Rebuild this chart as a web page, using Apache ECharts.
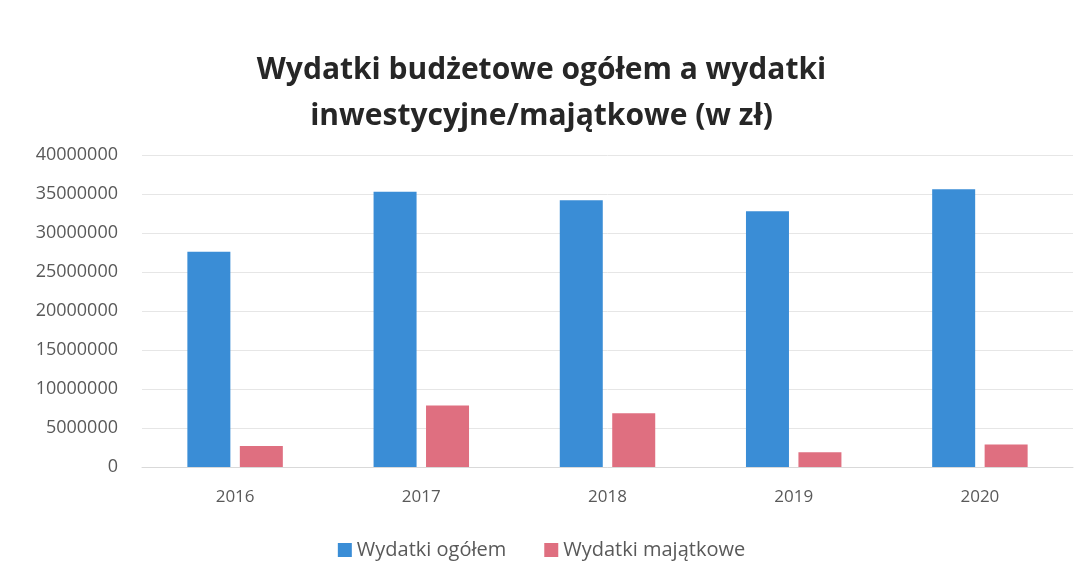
<!DOCTYPE html>
<html>
<head>
<meta charset="utf-8">
<script src="https://cdn.jsdelivr.net/npm/echarts@6/dist/echarts.min.js"></script>
<style>
  html, body { margin: 0; padding: 0; background: #fff; }
  #chart { width: 1083px; height: 585px; }
</style>
</head>
<body>
<div id="chart"></div>
<script>
const years = ['2016', '2017', '2018', '2019', '2020']
const wydatkiOgolem = [27600000, 35300000, 34200000, 32800000, 35600000]
const wydatkiMajatkowe = [2700000, 7900000, 6900000, 1900000, 2900000]
const yTicks = [0, 5000000, 10000000, 15000000, 20000000, 25000000, 30000000, 35000000, 40000000]

const chart = echarts.init(document.getElementById('chart'))
const font = 'Open Sans, Lato, sans-serif'

chart.setOption({
  backgroundColor: '#fff',
  title: {
    text: 'Wydatki budżetowe ogółem a wydatki\ninwestycyjne/majątkowe (w zł)',
    left: 'center',
    top: 42,
    textStyle: { fontFamily: font, fontSize: 30, fontWeight: 'bold', color: '#262626', lineHeight: 46 },
  },
  legend: {
    bottom: 20,
    left: 'center',
    itemWidth: 14,
    itemHeight: 14,
    itemGap: 38,
    icon: 'rect',
    textStyle: { fontFamily: font, fontSize: 20, color: '#595959' },
  },
  grid: { left: 142, right: 10, top: 155, bottom: 118 },
  xAxis: {
    type: 'category',
    data: years,
    axisLine: { lineStyle: { color: '#d9d9d9' } },
    axisTick: { show: false },
    axisLabel: { fontFamily: font, fontSize: 17, color: '#595959', margin: 22 },
  },
  yAxis: {
    type: 'value',
    min: yTicks[0],
    max: yTicks[yTicks.length - 1],
    interval: 5000000,
    axisLine: { show: false },
    axisTick: { show: false },
    splitLine: { lineStyle: { color: '#e6e6e6' } },
    axisLabel: { fontFamily: font, fontSize: 18, color: '#595959', margin: 24, formatter: v => String(v) },
  },
  series: [
    {
      name: 'Wydatki ogółem',
      type: 'bar',
      data: wydatkiOgolem,
      barWidth: 43,
      barGap: '22%',
      itemStyle: { color: '#3a8dd6' },
    },
    {
      name: 'Wydatki majątkowe',
      type: 'bar',
      data: wydatkiMajatkowe,
      barWidth: 43,
      itemStyle: { color: '#df6f80' },
    },
  ],
})
</script>
</body>
</html>
